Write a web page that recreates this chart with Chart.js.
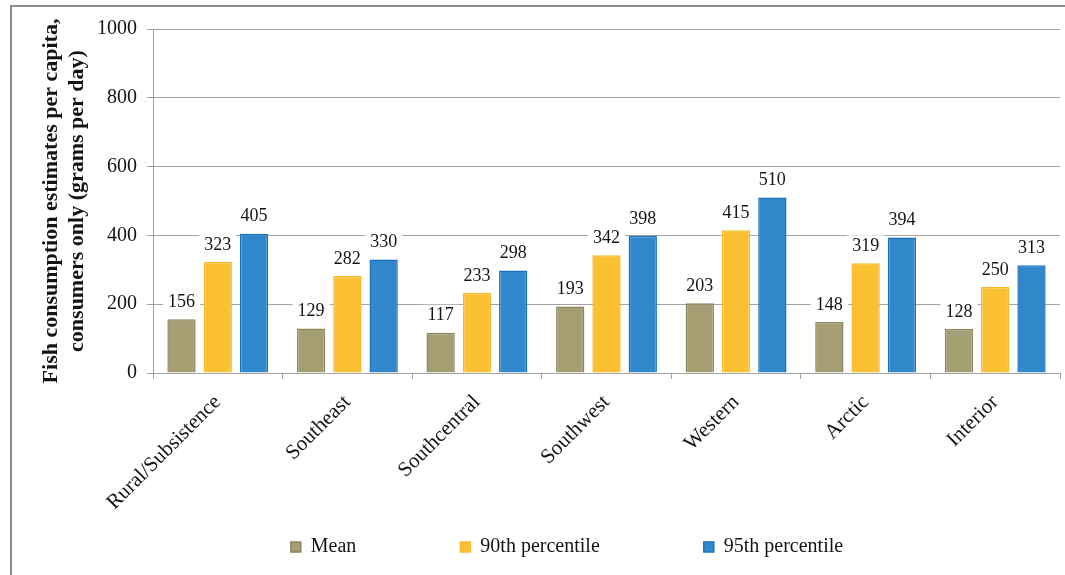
<!DOCTYPE html>
<html>
<head>
<meta charset="utf-8">
<title>Fish consumption estimates</title>
<script src="https://cdn.jsdelivr.net/npm/chart.js@4/dist/chart.umd.min.js"></script>
<style>
  html, body { margin: 0; padding: 0; background: #fff; overflow: hidden; }
  #wrap { position: relative; width: 1065px; height: 575px; }
  #frame { position: absolute; left: 10px; top: 5px; width: 1200px; height: 700px; border-left: 2px solid #8c8c8c; border-top: 2px solid #8c8c8c; }
  #chart { position: absolute; left: 0; top: 0; }
</style>
</head>
<body>
<div id="wrap">
  <div id="frame"></div>
  <canvas id="chart" width="1065" height="575"></canvas>
</div>
<script>
'use strict';

var REGIONS = ['Rural/Subsistence', 'Southeast', 'Southcentral', 'Southwest', 'Western', 'Arctic', 'Interior'];
var MEAN = [156, 129, 117, 193, 203, 148, 128];
var P90 = [323, 282, 233, 342, 415, 319, 250];
var P95 = [405, 330, 298, 398, 510, 394, 313];
var Y_MIN = 0, Y_MAX = 1000, Y_STEP = 200;
var Y_TITLE = ['Fish consumption estimates per capita,', 'consumers only (grams per day)'];

var SERIF = '"Liberation Serif", "Times New Roman", serif';
var INK = '#141414';
var GRID = '#a3a3a3';

Chart.defaults.font.family = SERIF;
Chart.defaults.color = INK;

// value above each bar, on a white plate so gridlines don't run through the number
var barValues = {
  id: 'barValues',
  afterDatasetsDraw: function(chart) {
    var ctx = chart.ctx;
    ctx.save();
    ctx.font = '18px ' + SERIF;
    ctx.textAlign = 'center';
    ctx.textBaseline = 'middle';
    chart.data.datasets.forEach(function(ds, i) {
      chart.getDatasetMeta(i).data.forEach(function(bar, j) {
        var txt = String(ds.data[j]);
        var w = ctx.measureText(txt).width;
        var y = bar.y - 18;
        ctx.fillStyle = '#fff';
        ctx.fillRect(bar.x - w / 2 - 5, y - 10, w + 10, 20);
        ctx.fillStyle = INK;
        ctx.fillText(txt, bar.x, y + 1);
      });
    });
    ctx.restore();
  }
};

// the slanted region names run down into the legend band, so let the x scale
// reach the canvas bottom (its labels are clipped to the scale box); the legend
// sits a little right of the canvas centre
var bottomBand = {
  id: 'bottomBand',
  afterLayout: function(chart) {
    chart.scales.x.bottom = chart.height;
    chart.legend.left += 37;
    chart.legend.right += 37;
  }
};

new Chart(document.getElementById('chart'), {
  type: 'bar',
  data: {
    labels: REGIONS,
    datasets: [
      { label: 'Mean', data: MEAN, backgroundColor: '#a59e72', borderColor: '#8c8560', borderWidth: 1.5 },
      { label: '90th percentile', data: P90, backgroundColor: '#fcc133', borderColor: '#f6ba2c', borderWidth: 1.5 },
      { label: '95th percentile', data: P95, backgroundColor: '#3189cb', borderColor: '#1c71bf', borderWidth: 1.5 }
    ]
  },
  options: {
    responsive: false,
    animation: false,
    categoryPercentage: 0.84,
    barPercentage: 0.78,
    layout: { padding: { left: 0, top: 29, right: 5, bottom: 8 } },
    plugins: {
      legend: {
        position: 'bottom',
        labels: { boxWidth: 10, boxHeight: 10, padding: 104, color: INK, font: { size: 20, family: SERIF } }
      },
      tooltip: { enabled: false }
    },
    scales: {
      x: {
        afterFit: function(s) { s.height = 60; },
        grid: { drawOnChartArea: false, drawTicks: true, tickLength: 6, color: GRID },
        border: { color: GRID, width: 1 },
        ticks: { maxRotation: 45, minRotation: 45, padding: 11, color: INK, font: { size: 21 } }
      },
      y: {
        min: Y_MIN, max: Y_MAX,
        afterFit: function(s) { s.width = 153; },
        grid: { color: GRID, tickLength: 6 },
        border: { color: GRID, width: 1 },
        ticks: {
          stepSize: Y_STEP, padding: 10, color: INK, font: { size: 20 },
          callback: function(v) { return String(v); }
        },
        title: {
          display: true,
          text: Y_TITLE,
          color: INK,
          padding: { top: 39, bottom: 0 },
          font: { size: 22, weight: 'bold', family: SERIF, lineHeight: 1.15 }
        }
      }
    }
  },
  plugins: [barValues, bottomBand]
});
</script>
</body>
</html>
